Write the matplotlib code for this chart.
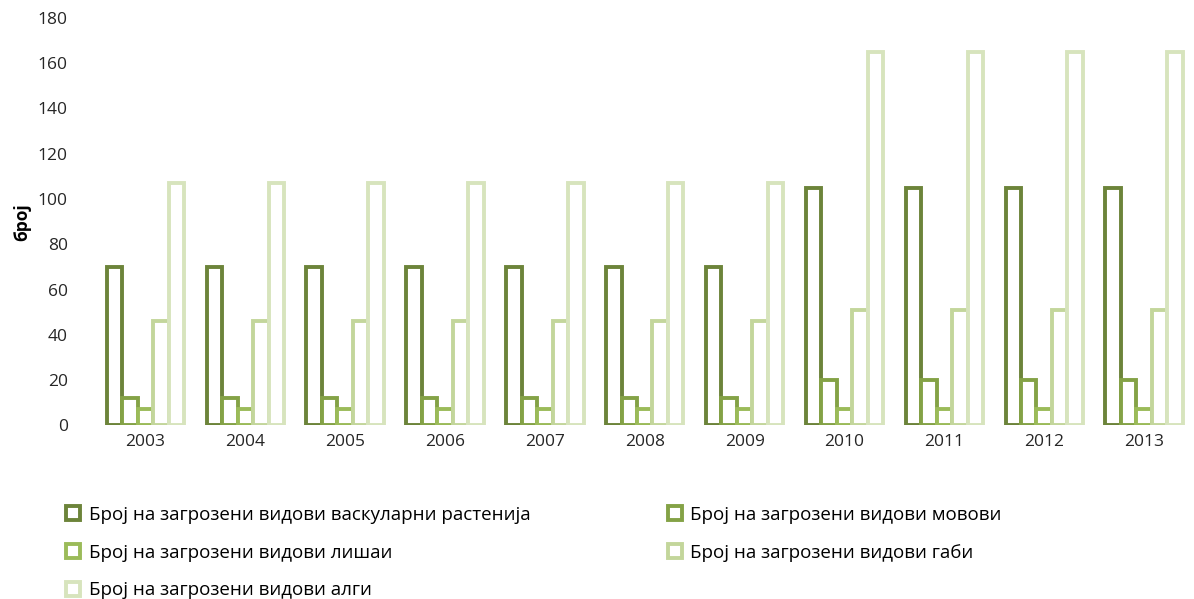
import matplotlib.pyplot as plt
import numpy as np
from matplotlib.patches import Patch

plt.rcParams['font.family'] = ['Open Sans', 'DejaVu Sans']

years = ['2003', '2004', '2005', '2006', '2007', '2008', '2009', '2010', '2011', '2012', '2013']

# број на загрозени видови
vaskularni = [70, 70, 70, 70, 70, 70, 70, 105, 105, 105, 105]
movovi = [12, 12, 12, 12, 12, 12, 12, 20, 20, 20, 20]
lishai = [7, 7, 7, 7, 7, 7, 7, 7, 7, 7, 7]
gabi = [46, 46, 46, 46, 46, 46, 46, 51, 51, 51, 51]
algi = [107, 107, 107, 107, 107, 107, 107, 165, 165, 165, 165]

names = ['Број на загрозени видови васкуларни растенија',
         'Број на загрозени видови мовови',
         'Број на загрозени видови лишаи',
         'Број на загрозени видови габи',
         'Број на загрозени видови алги']
series = [vaskularni, movovi, lishai, gabi, algi]
colors = ['#6C843A', '#84A246', '#9BBB59', '#C3D69B', '#D7E4BD']

fig = plt.figure(figsize=(11.94, 5.99), dpi=100)
ax = fig.add_axes([0.08, 0.29, 0.92, 0.68])

x = np.arange(len(years))
w = 0.155
for i, (vals, c) in enumerate(zip(series, colors)):
    ax.bar(x + (i - 2) * w, vals, w, facecolor='white', edgecolor=c, linewidth=2.8)

ax.set_xlim(-0.5, len(years) - 0.5)
ax.set_ylim(0, 180)
ax.set_yticks(range(0, 181, 20))
ax.set_xticks(x)
ax.set_xticklabels(years)
ax.tick_params(length=0, labelsize=12.5, colors='#262626')
ax.tick_params(axis='y', pad=20)
ax.tick_params(axis='x', pad=6)
for s in ax.spines.values():
    s.set_visible(False)
ax.set_ylabel('број', fontsize=12.5, fontweight='bold', labelpad=5)

handles = [Patch(facecolor='white', edgecolor=c, linewidth=2.8) for c in colors]
kw = dict(frameon=False, fontsize=13.5, handlelength=0.75, handleheight=0.75,
          handletextpad=0.45, labelspacing=1.05, loc='upper left', borderaxespad=0)
fig.legend([handles[0], handles[2], handles[4]], [names[0], names[2], names[4]],
           bbox_to_anchor=(0.049, 0.168), **kw)
fig.legend([handles[1], handles[3]], [names[1], names[3]],
           bbox_to_anchor=(0.553, 0.168), **kw)

fig.savefig('out.png', dpi=100)
